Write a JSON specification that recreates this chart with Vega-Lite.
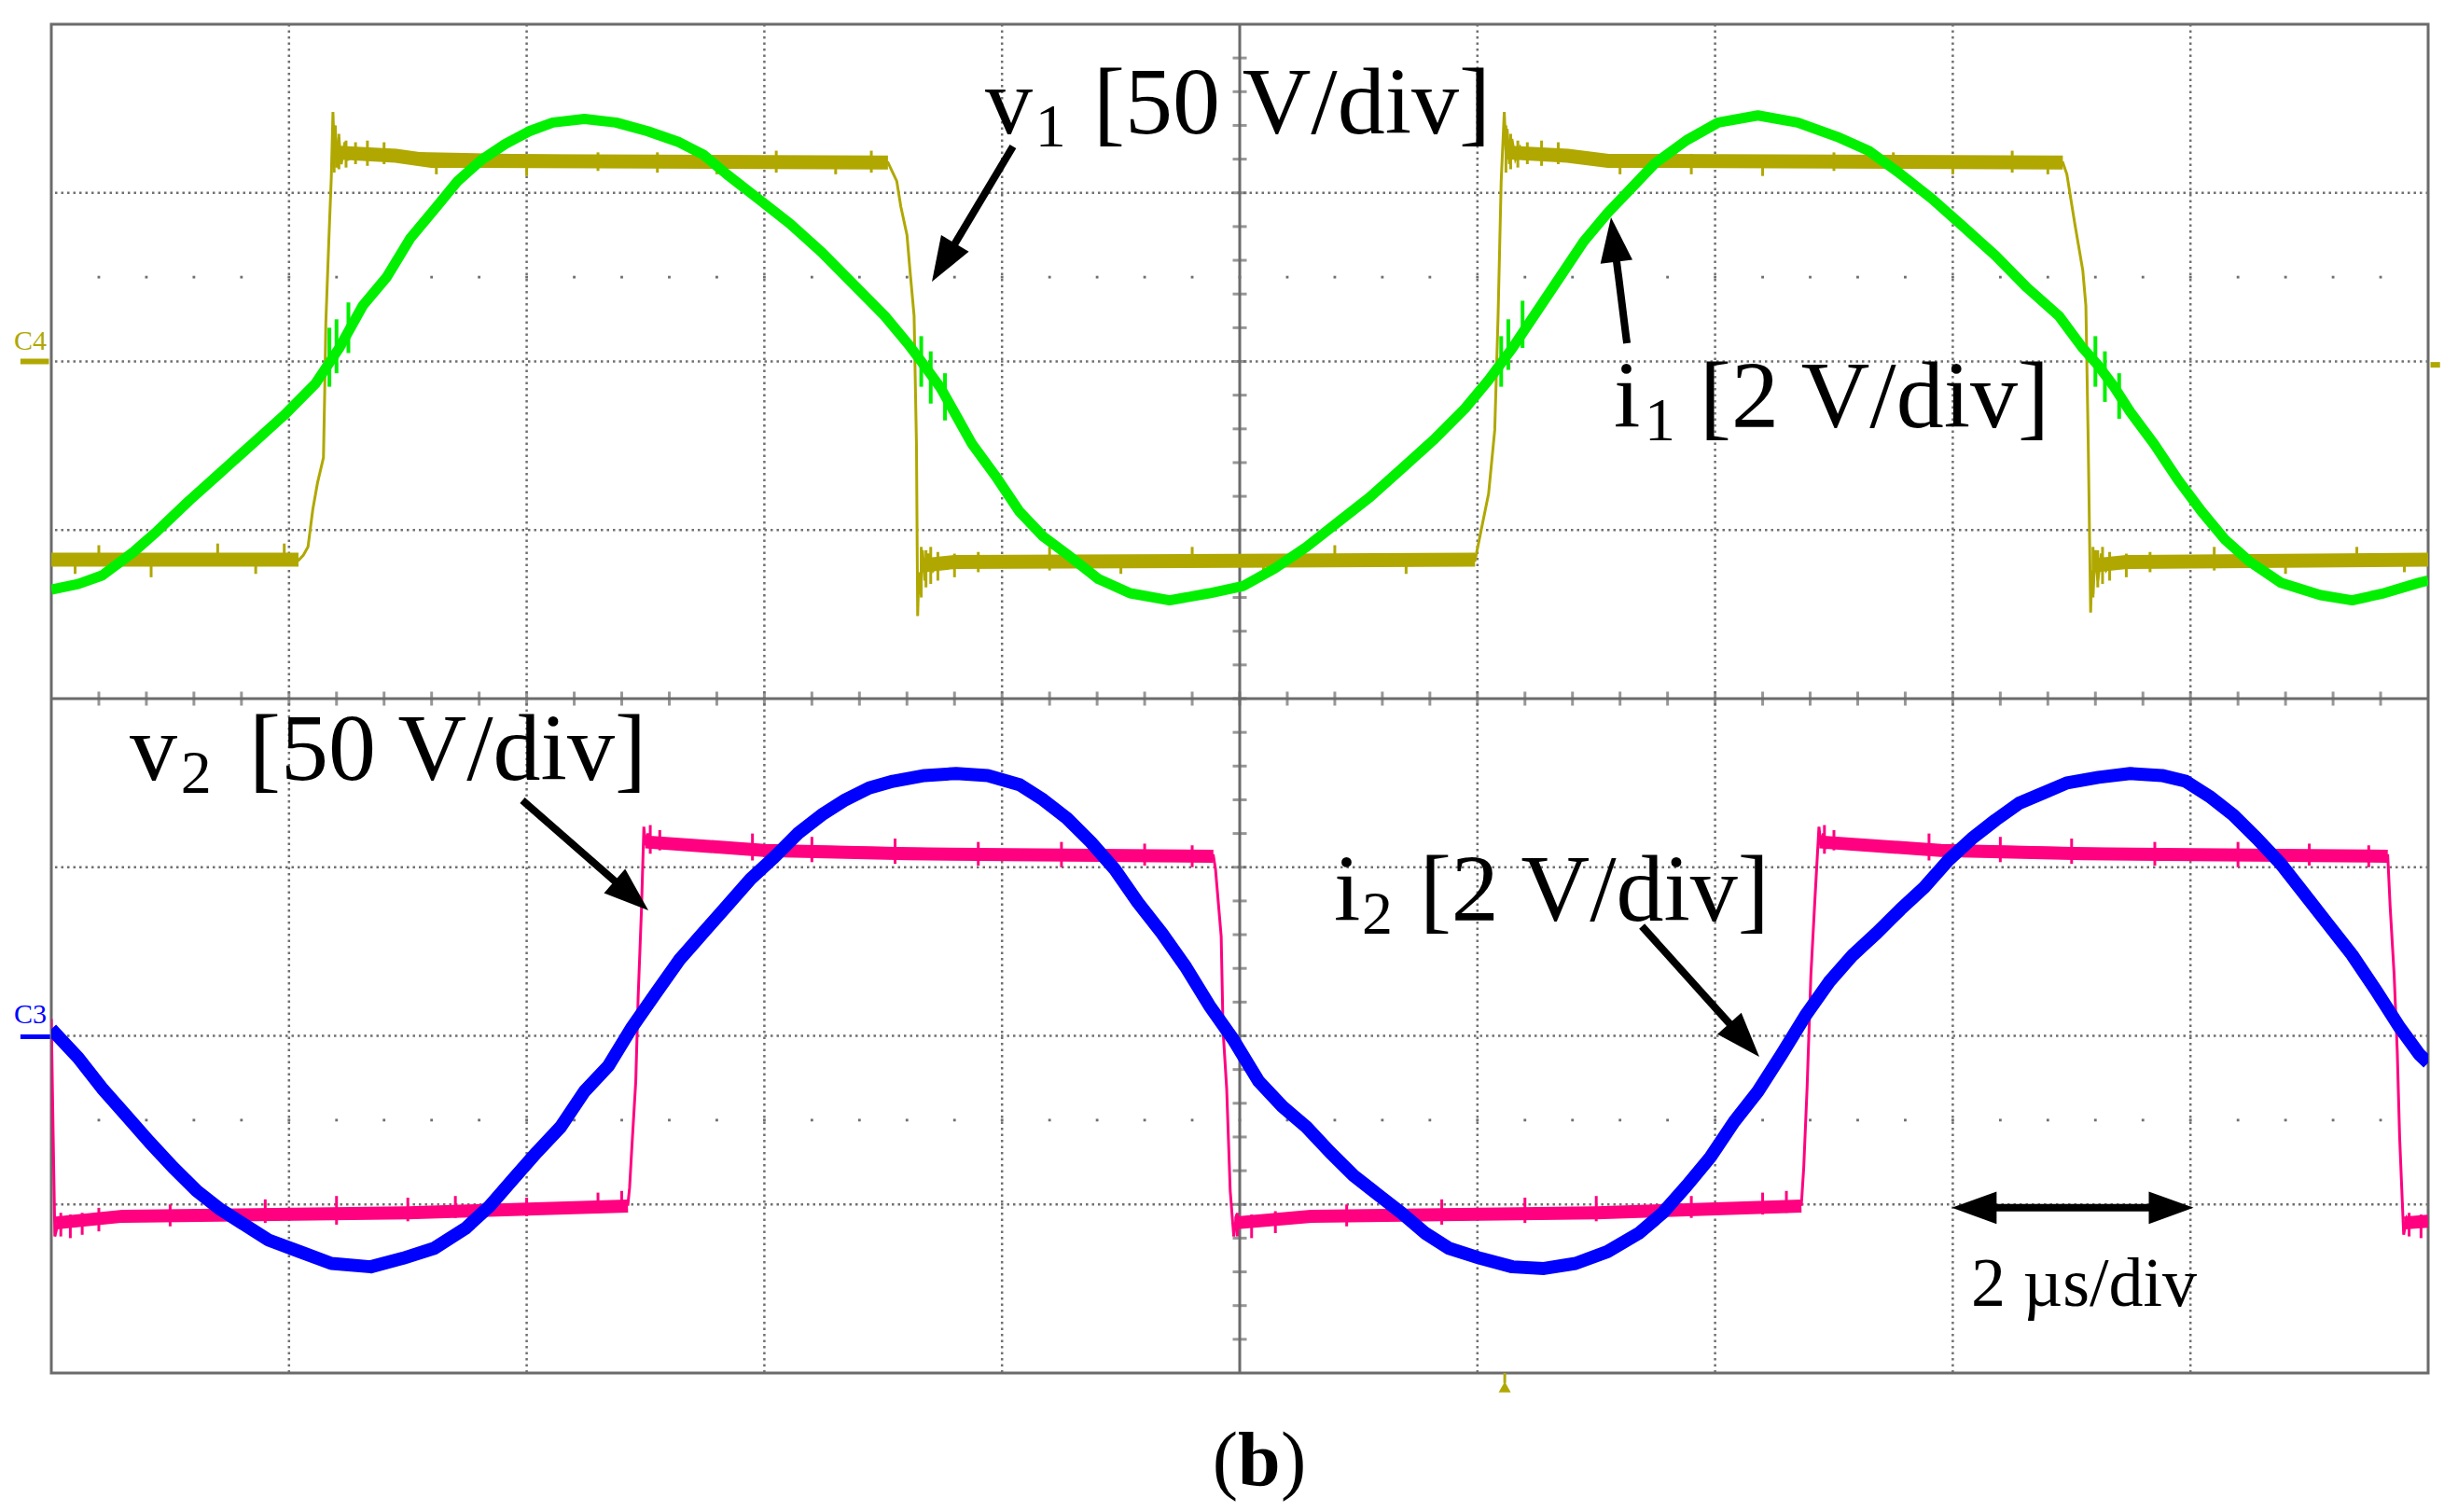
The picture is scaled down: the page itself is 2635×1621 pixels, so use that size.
{
"$schema": "https://vega.github.io/schema/vega-lite/v6.json",
"width": 2548, "height": 1446,
"autosize": {"type": "none"},
"padding": {"left": 55, "top": 26, "right": 32, "bottom": 149},
"background": "white",
"config": {"view": {"stroke": "#6b6b6b", "strokeWidth": 3}},
"datasets": {
"vgrid": [{"t":1},{"t":2},{"t":3},{"t":4},{"t":6},{"t":7},{"t":8},{"t":9}],
"hgrid": [{"v":-3},{"v":-2},{"v":-1},{"v":1},{"v":2},{"v":3}],
"mt": [{"t":0.2},{"t":0.4},{"t":0.6},{"t":0.8},{"t":1},{"t":1.2},{"t":1.4},{"t":1.6},{"t":1.8},{"t":2},{"t":2.2},{"t":2.4},{"t":2.6},{"t":2.8},{"t":3},{"t":3.2},{"t":3.4},{"t":3.6},{"t":3.8},{"t":4},{"t":4.2},{"t":4.4},{"t":4.6},{"t":4.8},{"t":5},{"t":5.2},{"t":5.4},{"t":5.6},{"t":5.8},{"t":6},{"t":6.2},{"t":6.4},{"t":6.6},{"t":6.8},{"t":7},{"t":7.2},{"t":7.4},{"t":7.6},{"t":7.8},{"t":8},{"t":8.2},{"t":8.4},{"t":8.6},{"t":8.8},{"t":9},{"t":9.2},{"t":9.4},{"t":9.6},{"t":9.8}],
"mv": [{"v":-3.8},{"v":-3.6},{"v":-3.4},{"v":-3.2},{"v":-3},{"v":-2.8},{"v":-2.6},{"v":-2.4},{"v":-2.2},{"v":-2},{"v":-1.8},{"v":-1.6},{"v":-1.4},{"v":-1.2},{"v":-1},{"v":-0.8},{"v":-0.6},{"v":-0.4},{"v":-0.2},{"v":0},{"v":0.2},{"v":0.4},{"v":0.6},{"v":0.8},{"v":1},{"v":1.2},{"v":1.4},{"v":1.6},{"v":1.8},{"v":2},{"v":2.2},{"v":2.4},{"v":2.6},{"v":2.8},{"v":3},{"v":3.2},{"v":3.4},{"v":3.6},{"v":3.8}],
"v1": [{"t":0,"v":0.82},{"t":1.04,"v":0.82},{"t":1.06,"v":0.85},{"t":1.08,"v":0.9},{"t":1.1,"v":1.12},{"t":1.12,"v":1.28},{"t":1.145,"v":1.43},{"t":1.15,"v":1.8},{"t":1.155,"v":2.23},{"t":1.168,"v":2.73},{"t":1.178,"v":3.09},{"t":1.185,"v":3.48},{"t":1.19,"v":3.25},{"t":1.195,"v":3.4},{"t":1.2,"v":3.15},{"t":1.21,"v":3.33},{"t":1.22,"v":3.17},{"t":1.235,"v":3.3},{"t":1.25,"v":3.2},{"t":1.3,"v":3.24},{"t":3.52,"v":3.18},{"t":3.557,"v":3.07},{"t":3.574,"v":2.92},{"t":3.6,"v":2.75},{"t":3.614,"v":2.52},{"t":3.63,"v":2.27},{"t":3.64,"v":1.5},{"t":3.645,"v":0.49},{"t":3.65,"v":0.75},{"t":3.655,"v":0.62},{"t":3.665,"v":0.88},{"t":3.675,"v":0.7},{"t":3.69,"v":0.86},{"t":3.71,"v":0.76},{"t":3.74,"v":0.83},{"t":3.8,"v":0.82},{"t":5.99,"v":0.82},{"t":6.013,"v":0.98},{"t":6.047,"v":1.215},{"t":6.073,"v":1.594},{"t":6.087,"v":2.27},{"t":6.1,"v":3.07},{"t":6.113,"v":3.48},{"t":6.12,"v":3.25},{"t":6.125,"v":3.38},{"t":6.135,"v":3.17},{"t":6.145,"v":3.32},{"t":6.16,"v":3.2},{"t":6.18,"v":3.27},{"t":6.2,"v":3.22},{"t":8.463,"v":3.18},{"t":8.48,"v":3.11},{"t":8.513,"v":2.82},{"t":8.547,"v":2.54},{"t":8.56,"v":2.33},{"t":8.57,"v":1.5},{"t":8.58,"v":0.51},{"t":8.585,"v":0.76},{"t":8.59,"v":0.62},{"t":8.6,"v":0.88},{"t":8.61,"v":0.7},{"t":8.625,"v":0.86},{"t":8.645,"v":0.76},{"t":8.68,"v":0.83},{"t":8.75,"v":0.82},{"t":10,"v":0.82}],
"v1lev": [{"seg":1,"t":0,"v":0.825},{"seg":1,"t":1.04,"v":0.825},{"seg":2,"t":1.19,"v":3.24},{"seg":2,"t":1.45,"v":3.22},{"seg":2,"t":1.6,"v":3.19},{"seg":2,"t":3.52,"v":3.18},{"seg":3,"t":3.66,"v":0.79},{"seg":3,"t":3.8,"v":0.81},{"seg":3,"t":5.99,"v":0.825},{"seg":4,"t":6.12,"v":3.24},{"seg":4,"t":6.38,"v":3.22},{"seg":4,"t":6.55,"v":3.19},{"seg":4,"t":8.463,"v":3.18},{"seg":5,"t":8.59,"v":0.79},{"seg":5,"t":8.73,"v":0.81},{"seg":5,"t":10,"v":0.825}],
"v1sp": [{"t":0.1,"lo":0.74,"hi":0.84},{"t":0.2,"lo":0.8,"hi":0.91},{"t":0.42,"lo":0.72,"hi":0.83},{"t":0.7,"lo":0.81,"hi":0.92},{"t":0.86,"lo":0.74,"hi":0.82},{"t":0.98,"lo":0.8,"hi":0.92},{"t":1.19,"lo":3.12,"hi":3.4},{"t":1.21,"lo":3.14,"hi":3.35},{"t":1.24,"lo":3.15,"hi":3.31},{"t":1.28,"lo":3.17,"hi":3.3},{"t":1.33,"lo":3.16,"hi":3.31},{"t":1.4,"lo":3.17,"hi":3.3},{"t":1.62,"lo":3.11,"hi":3.2},{"t":1.75,"lo":3.11,"hi":3.22},{"t":2.0,"lo":3.1,"hi":3.2},{"t":2.3,"lo":3.13,"hi":3.24},{"t":2.55,"lo":3.12,"hi":3.24},{"t":2.8,"lo":3.11,"hi":3.22},{"t":3.05,"lo":3.12,"hi":3.25},{"t":3.3,"lo":3.11,"hi":3.22},{"t":3.45,"lo":3.12,"hi":3.25},{"t":3.66,"lo":0.6,"hi":0.9},{"t":3.68,"lo":0.66,"hi":0.88},{"t":3.7,"lo":0.68,"hi":0.9},{"t":3.73,"lo":0.7,"hi":0.87},{"t":3.8,"lo":0.72,"hi":0.86},{"t":3.9,"lo":0.75,"hi":0.87},{"t":4.2,"lo":0.76,"hi":0.9},{"t":4.5,"lo":0.74,"hi":0.84},{"t":4.8,"lo":0.79,"hi":0.9},{"t":5.1,"lo":0.75,"hi":0.84},{"t":5.4,"lo":0.79,"hi":0.91},{"t":5.7,"lo":0.74,"hi":0.84},{"t":6.12,"lo":3.12,"hi":3.4},{"t":6.14,"lo":3.14,"hi":3.35},{"t":6.17,"lo":3.15,"hi":3.31},{"t":6.21,"lo":3.17,"hi":3.3},{"t":6.27,"lo":3.16,"hi":3.31},{"t":6.34,"lo":3.17,"hi":3.3},{"t":6.6,"lo":3.11,"hi":3.21},{"t":6.9,"lo":3.11,"hi":3.23},{"t":7.2,"lo":3.1,"hi":3.2},{"t":7.5,"lo":3.13,"hi":3.24},{"t":7.75,"lo":3.12,"hi":3.24},{"t":8.0,"lo":3.11,"hi":3.22},{"t":8.25,"lo":3.12,"hi":3.25},{"t":8.4,"lo":3.11,"hi":3.22},{"t":8.59,"lo":0.6,"hi":0.9},{"t":8.61,"lo":0.66,"hi":0.88},{"t":8.63,"lo":0.68,"hi":0.9},{"t":8.66,"lo":0.7,"hi":0.87},{"t":8.73,"lo":0.72,"hi":0.86},{"t":8.83,"lo":0.75,"hi":0.87},{"t":9.1,"lo":0.76,"hi":0.9},{"t":9.4,"lo":0.74,"hi":0.84},{"t":9.7,"lo":0.79,"hi":0.9},{"t":9.9,"lo":0.75,"hi":0.84}],
"i1": [{"t":0,"v":0.646},{"t":0.113,"v":0.68},{"t":0.213,"v":0.73},{"t":0.346,"v":0.87},{"t":0.446,"v":0.994},{"t":0.579,"v":1.173},{"t":0.712,"v":1.341},{"t":0.845,"v":1.51},{"t":0.978,"v":1.679},{"t":1.111,"v":1.868},{"t":1.211,"v":2.079},{"t":1.311,"v":2.332},{"t":1.411,"v":2.5},{"t":1.511,"v":2.732},{"t":1.611,"v":2.9},{"t":1.71,"v":3.07},{"t":1.81,"v":3.196},{"t":1.91,"v":3.29},{"t":2.01,"v":3.365},{"t":2.11,"v":3.417},{"t":2.243,"v":3.438},{"t":2.376,"v":3.417},{"t":2.51,"v":3.365},{"t":2.642,"v":3.3},{"t":2.742,"v":3.228},{"t":2.842,"v":3.11},{"t":2.975,"v":2.964},{"t":3.108,"v":2.817},{"t":3.241,"v":2.648},{"t":3.374,"v":2.458},{"t":3.507,"v":2.269},{"t":3.607,"v":2.1},{"t":3.674,"v":1.974},{"t":3.74,"v":1.847},{"t":3.807,"v":1.679},{"t":3.874,"v":1.51},{"t":3.973,"v":1.32},{"t":4.073,"v":1.11},{"t":4.173,"v":0.962},{"t":4.273,"v":0.857},{"t":4.406,"v":0.709},{"t":4.539,"v":0.625},{"t":4.705,"v":0.583},{"t":4.872,"v":0.625},{"t":5.013,"v":0.667},{"t":5.147,"v":0.772},{"t":5.28,"v":0.899},{"t":5.413,"v":1.046},{"t":5.547,"v":1.194},{"t":5.68,"v":1.362},{"t":5.813,"v":1.531},{"t":5.947,"v":1.72},{"t":6.047,"v":1.889},{"t":6.147,"v":2.079},{"t":6.247,"v":2.29},{"t":6.347,"v":2.5},{"t":6.447,"v":2.711},{"t":6.547,"v":2.88},{"t":6.647,"v":3.027},{"t":6.747,"v":3.175},{"t":6.88,"v":3.312},{"t":7.013,"v":3.417},{"t":7.18,"v":3.459},{"t":7.347,"v":3.417},{"t":7.513,"v":3.333},{"t":7.647,"v":3.249},{"t":7.78,"v":3.112},{"t":7.913,"v":2.964},{"t":8.047,"v":2.796},{"t":8.18,"v":2.627},{"t":8.313,"v":2.437},{"t":8.447,"v":2.269},{"t":8.547,"v":2.079},{"t":8.613,"v":1.974},{"t":8.68,"v":1.847},{"t":8.747,"v":1.7},{"t":8.847,"v":1.51},{"t":8.947,"v":1.299},{"t":9.047,"v":1.11},{"t":9.147,"v":0.941},{"t":9.247,"v":0.815},{"t":9.38,"v":0.688},{"t":9.547,"v":0.614},{"t":9.68,"v":0.583},{"t":9.813,"v":0.625},{"t":9.963,"v":0.688},{"t":10,"v":0.7}],
"i1sp": [{"t":1.17,"lo":1.85,"hi":2.2},{"t":1.2,"lo":1.93,"hi":2.25},{"t":1.25,"lo":2.05,"hi":2.35},{"t":3.66,"lo":1.85,"hi":2.15},{"t":3.7,"lo":1.75,"hi":2.06},{"t":3.76,"lo":1.65,"hi":1.93},{"t":6.1,"lo":1.85,"hi":2.15},{"t":6.13,"lo":1.95,"hi":2.25},{"t":6.19,"lo":2.08,"hi":2.36},{"t":8.6,"lo":1.85,"hi":2.15},{"t":8.64,"lo":1.76,"hi":2.06},{"t":8.7,"lo":1.66,"hi":1.93}],
"v2": [{"t":0,"v":-1.9},{"t":0.008,"v":-2.6},{"t":0.015,"v":-3.19},{"t":0.03,"v":-3.1},{"t":2.426,"v":-3.0},{"t":2.433,"v":-2.9},{"t":2.443,"v":-2.65},{"t":2.459,"v":-2.27},{"t":2.469,"v":-1.77},{"t":2.483,"v":-1.25},{"t":2.493,"v":-0.76},{"t":2.5,"v":-0.87},{"t":2.51,"v":-0.8},{"t":2.52,"v":-0.88},{"t":2.55,"v":-0.84},{"t":2.6,"v":-0.86},{"t":4.889,"v":-0.93},{"t":4.898,"v":-1.01},{"t":4.922,"v":-1.41},{"t":4.93,"v":-1.97},{"t":4.945,"v":-2.31},{"t":4.96,"v":-2.92},{"t":4.975,"v":-3.19},{"t":4.985,"v":-3.08},{"t":5.0,"v":-3.12},{"t":5.05,"v":-3.1},{"t":7.363,"v":-3.0},{"t":7.373,"v":-2.78},{"t":7.387,"v":-2.31},{"t":7.403,"v":-1.64},{"t":7.42,"v":-1.19},{"t":7.437,"v":-0.76},{"t":7.445,"v":-0.87},{"t":7.455,"v":-0.8},{"t":7.47,"v":-0.88},{"t":7.5,"v":-0.84},{"t":7.55,"v":-0.86},{"t":9.83,"v":-0.93},{"t":9.84,"v":-1.23},{"t":9.857,"v":-1.64},{"t":9.87,"v":-2.09},{"t":9.88,"v":-2.6},{"t":9.897,"v":-3.18},{"t":9.91,"v":-3.08},{"t":9.93,"v":-3.12},{"t":10,"v":-3.1}],
"v2lev": [{"seg":1,"t":0.02,"v":-3.11},{"seg":1,"t":0.3,"v":-3.07},{"seg":1,"t":1.5,"v":-3.05},{"seg":1,"t":2.426,"v":-3.01},{"seg":2,"t":2.5,"v":-0.85},{"seg":2,"t":3.0,"v":-0.9},{"seg":2,"t":3.6,"v":-0.92},{"seg":2,"t":4.889,"v":-0.935},{"seg":3,"t":4.98,"v":-3.11},{"seg":3,"t":5.3,"v":-3.07},{"seg":3,"t":6.5,"v":-3.05},{"seg":3,"t":7.363,"v":-3.01},{"seg":4,"t":7.44,"v":-0.85},{"seg":4,"t":7.95,"v":-0.9},{"seg":4,"t":8.55,"v":-0.92},{"seg":4,"t":9.83,"v":-0.935},{"seg":5,"t":9.9,"v":-3.11},{"seg":5,"t":10,"v":-3.1}],
"v2sp": [{"t":0.04,"lo":-3.19,"hi":-3.05},{"t":0.08,"lo":-3.2,"hi":-3.06},{"t":0.13,"lo":-3.18,"hi":-3.05},{"t":0.2,"lo":-3.16,"hi":-3.02},{"t":0.5,"lo":-3.13,"hi":-3.0},{"t":0.9,"lo":-3.11,"hi":-2.97},{"t":1.2,"lo":-3.12,"hi":-2.95},{"t":1.5,"lo":-3.1,"hi":-2.96},{"t":1.7,"lo":-3.08,"hi":-2.95},{"t":2.0,"lo":-3.07,"hi":-2.96},{"t":2.3,"lo":-3.05,"hi":-2.93},{"t":2.4,"lo":-3.04,"hi":-2.92},{"t":2.52,"lo":-0.92,"hi":-0.75},{"t":2.56,"lo":-0.9,"hi":-0.78},{"t":2.95,"lo":-0.96,"hi":-0.8},{"t":3.2,"lo":-0.97,"hi":-0.82},{"t":3.55,"lo":-0.98,"hi":-0.83},{"t":3.9,"lo":-0.99,"hi":-0.85},{"t":4.25,"lo":-1.0,"hi":-0.85},{"t":4.6,"lo":-0.99,"hi":-0.86},{"t":4.8,"lo":-1.0,"hi":-0.87},{"t":4.99,"lo":-3.19,"hi":-3.05},{"t":5.05,"lo":-3.2,"hi":-3.06},{"t":5.15,"lo":-3.17,"hi":-3.04},{"t":5.45,"lo":-3.13,"hi":-3.0},{"t":5.85,"lo":-3.12,"hi":-2.97},{"t":6.2,"lo":-3.11,"hi":-2.96},{"t":6.5,"lo":-3.1,"hi":-2.95},{"t":6.9,"lo":-3.08,"hi":-2.95},{"t":7.2,"lo":-3.06,"hi":-2.93},{"t":7.3,"lo":-3.05,"hi":-2.92},{"t":7.46,"lo":-0.92,"hi":-0.75},{"t":7.5,"lo":-0.9,"hi":-0.78},{"t":7.9,"lo":-0.96,"hi":-0.8},{"t":8.2,"lo":-0.97,"hi":-0.82},{"t":8.5,"lo":-0.98,"hi":-0.83},{"t":8.85,"lo":-0.99,"hi":-0.85},{"t":9.2,"lo":-1.0,"hi":-0.85},{"t":9.5,"lo":-0.99,"hi":-0.86},{"t":9.75,"lo":-1.0,"hi":-0.87},{"t":9.92,"lo":-3.19,"hi":-3.05},{"t":9.97,"lo":-3.2,"hi":-3.06}],
"i2": [{"t":0,"v":-1.96},{"t":0.113,"v":-2.13},{"t":0.213,"v":-2.31},{"t":0.313,"v":-2.47},{"t":0.413,"v":-2.63},{"t":0.512,"v":-2.78},{"t":0.612,"v":-2.92},{"t":0.712,"v":-3.03},{"t":0.812,"v":-3.12},{"t":0.912,"v":-3.21},{"t":1.045,"v":-3.28},{"t":1.178,"v":-3.35},{"t":1.344,"v":-3.37},{"t":1.478,"v":-3.32},{"t":1.611,"v":-3.26},{"t":1.744,"v":-3.14},{"t":1.844,"v":-3.01},{"t":1.943,"v":-2.85},{"t":2.043,"v":-2.69},{"t":2.143,"v":-2.54},{"t":2.243,"v":-2.33},{"t":2.343,"v":-2.18},{"t":2.443,"v":-1.95},{"t":2.542,"v":-1.75},{"t":2.642,"v":-1.55},{"t":2.742,"v":-1.39},{"t":2.842,"v":-1.23},{"t":2.942,"v":-1.07},{"t":3.042,"v":-0.94},{"t":3.141,"v":-0.8},{"t":3.241,"v":-0.69},{"t":3.341,"v":-0.6},{"t":3.441,"v":-0.53},{"t":3.541,"v":-0.49},{"t":3.674,"v":-0.456},{"t":3.807,"v":-0.444},{"t":3.94,"v":-0.456},{"t":4.073,"v":-0.51},{"t":4.173,"v":-0.6},{"t":4.273,"v":-0.71},{"t":4.373,"v":-0.85},{"t":4.473,"v":-1.01},{"t":4.572,"v":-1.21},{"t":4.672,"v":-1.39},{"t":4.772,"v":-1.59},{"t":4.872,"v":-1.82},{"t":4.972,"v":-2.02},{"t":5.08,"v":-2.27},{"t":5.18,"v":-2.42},{"t":5.28,"v":-2.54},{"t":5.38,"v":-2.69},{"t":5.48,"v":-2.83},{"t":5.58,"v":-2.94},{"t":5.68,"v":-3.05},{"t":5.78,"v":-3.17},{"t":5.88,"v":-3.26},{"t":6.013,"v":-3.32},{"t":6.147,"v":-3.37},{"t":6.28,"v":-3.38},{"t":6.413,"v":-3.35},{"t":6.547,"v":-3.28},{"t":6.68,"v":-3.17},{"t":6.78,"v":-3.05},{"t":6.88,"v":-2.89},{"t":6.98,"v":-2.72},{"t":7.08,"v":-2.51},{"t":7.18,"v":-2.33},{"t":7.28,"v":-2.11},{"t":7.38,"v":-1.88},{"t":7.48,"v":-1.68},{"t":7.58,"v":-1.52},{"t":7.68,"v":-1.39},{"t":7.78,"v":-1.25},{"t":7.88,"v":-1.12},{"t":7.98,"v":-0.96},{"t":8.08,"v":-0.83},{"t":8.18,"v":-0.72},{"t":8.28,"v":-0.62},{"t":8.38,"v":-0.56},{"t":8.48,"v":-0.5},{"t":8.613,"v":-0.467},{"t":8.747,"v":-0.444},{"t":8.88,"v":-0.456},{"t":8.98,"v":-0.49},{"t":9.08,"v":-0.58},{"t":9.18,"v":-0.69},{"t":9.28,"v":-0.83},{"t":9.38,"v":-0.98},{"t":9.48,"v":-1.16},{"t":9.58,"v":-1.34},{"t":9.68,"v":-1.52},{"t":9.78,"v":-1.73},{"t":9.88,"v":-1.95},{"t":9.963,"v":-2.11},{"t":10,"v":-2.16}],
"big": [{"t":3.929,"v":3.353,"txt":"v"},{"t":4.384,"v":3.353,"txt":"[50 V/div]"},{"t":6.574,"v":1.61,"txt":"i"},{"t":6.935,"v":1.61,"txt":"[2 V/div]"},{"t":0.33,"v":-0.479,"txt":"v"},{"t":0.832,"v":-0.479,"txt":"[50 V/div]"},{"t":5.396,"v":-1.314,"txt":"i"},{"t":5.757,"v":-1.314,"txt":"[2 V/div]"}],
"sub": [{"t":4.14,"v":3.275,"txt":"1"},{"t":6.703,"v":1.532,"txt":"1"},{"t":0.545,"v":-0.558,"txt":"2"},{"t":5.514,"v":-1.393,"txt":"2"}],
"shafts": [{"t":4.046,"v":3.275,"t2":3.766,"v2":2.615},{"t":6.629,"v":2.108,"t2":6.577,"v2":2.69},{"t":1.982,"v":-0.603,"t2":2.423,"v2":-1.146},{"t":6.692,"v":-1.35,"t2":7.107,"v2":-2.0},{"t":8.1,"v":-3.02,"t2":8.91,"v2":-3.02}],
"heads": [{"t":3.705,"v":2.473,"ang":211},{"t":6.562,"v":2.855,"ang":353},{"t":2.512,"v":-1.256,"ang":131},{"t":7.186,"v":-2.124,"ang":138},{"t":7.996,"v":-3.02,"ang":270},{"t":9.013,"v":-3.02,"ang":90}]
},
"layer": [
{"data":{"name":"vgrid"},"mark":{"type":"rule","color":"#707070","strokeWidth":2.5,"strokeDash":[2.5,4]},
 "encoding":{"x":{"field":"t","type":"quantitative","scale":{"domain":[0,10],"nice":false,"zero":false},"axis":null}}},
{"data":{"name":"hgrid"},"mark":{"type":"rule","color":"#707070","strokeWidth":2.5,"strokeDash":[2.5,4]},
 "encoding":{"y":{"field":"v","type":"quantitative","scale":{"domain":[-4,4],"nice":false,"zero":false},"axis":null}}},
{"data":{"values":[{"t":5}]},"mark":{"type":"rule","color":"#6b6b6b","strokeWidth":3},
 "encoding":{"x":{"field":"t","type":"quantitative","axis":null}}},
{"data":{"values":[{"v":0}]},"mark":{"type":"rule","color":"#6b6b6b","strokeWidth":3},
 "encoding":{"y":{"field":"v","type":"quantitative","axis":null}}},
{"data":{"name":"mt"},"mark":{"type":"tick","orient":"vertical","size":15,"thickness":3,"color":"#6b6b6b"},
 "encoding":{"x":{"field":"t","type":"quantitative","axis":null},"y":{"datum":0,"type":"quantitative","axis":null}}},
{"data":{"name":"mv"},"mark":{"type":"tick","orient":"horizontal","size":15,"thickness":3,"color":"#6b6b6b"},
 "encoding":{"y":{"field":"v","type":"quantitative","axis":null},"x":{"datum":5,"type":"quantitative","axis":null}}},
{"data":{"name":"mt"},"mark":{"type":"point","shape":"square","filled":true,"size":8,"color":"#707070","opacity":1},
 "encoding":{"x":{"field":"t","type":"quantitative","axis":null},"y":{"datum":2.5,"type":"quantitative","axis":null}}},
{"data":{"name":"mt"},"mark":{"type":"point","shape":"square","filled":true,"size":8,"color":"#707070","opacity":1},
 "encoding":{"x":{"field":"t","type":"quantitative","axis":null},"y":{"datum":-2.5,"type":"quantitative","axis":null}}},
{"data":{"name":"v1"},"mark":{"type":"line","color":"#b0a800","strokeWidth":3,"clip":true},
 "encoding":{"x":{"field":"t","type":"quantitative","axis":null},"y":{"field":"v","type":"quantitative","axis":null}}},
{"data":{"name":"v1lev"},"mark":{"type":"line","color":"#b0a800","strokeWidth":15,"strokeCap":"butt","clip":true},
 "encoding":{"x":{"field":"t","type":"quantitative","axis":null},"y":{"field":"v","type":"quantitative","axis":null},"detail":{"field":"seg"}}},
{"data":{"name":"v1sp"},"mark":{"type":"rule","color":"#b0a800","strokeWidth":3,"clip":true},
 "encoding":{"x":{"field":"t","type":"quantitative","axis":null},"y":{"field":"lo","type":"quantitative","axis":null},"y2":{"field":"hi"}}},
{"data":{"name":"i1"},"mark":{"type":"line","color":"#00f000","strokeWidth":11,"strokeJoin":"round","clip":true},
 "encoding":{"x":{"field":"t","type":"quantitative","axis":null},"y":{"field":"v","type":"quantitative","axis":null}}},
{"data":{"name":"i1sp"},"mark":{"type":"rule","color":"#00f000","strokeWidth":4,"clip":true},
 "encoding":{"x":{"field":"t","type":"quantitative","axis":null},"y":{"field":"lo","type":"quantitative","axis":null},"y2":{"field":"hi"}}},
{"data":{"name":"v2"},"mark":{"type":"line","color":"#ff0080","strokeWidth":3,"clip":true},
 "encoding":{"x":{"field":"t","type":"quantitative","axis":null},"y":{"field":"v","type":"quantitative","axis":null}}},
{"data":{"name":"v2lev"},"mark":{"type":"line","color":"#ff0080","strokeWidth":14,"strokeCap":"butt","clip":true},
 "encoding":{"x":{"field":"t","type":"quantitative","axis":null},"y":{"field":"v","type":"quantitative","axis":null},"detail":{"field":"seg"}}},
{"data":{"name":"v2sp"},"mark":{"type":"rule","color":"#ff0080","strokeWidth":3,"clip":true},
 "encoding":{"x":{"field":"t","type":"quantitative","axis":null},"y":{"field":"lo","type":"quantitative","axis":null},"y2":{"field":"hi"}}},
{"data":{"name":"i2"},"mark":{"type":"line","color":"#0000ff","strokeWidth":14,"strokeJoin":"round","clip":true},
 "encoding":{"x":{"field":"t","type":"quantitative","axis":null},"y":{"field":"v","type":"quantitative","axis":null}}},
{"data":{"values":[{"t":-0.13,"v":2.0,"t2":-0.01},{"t":10.01,"v":1.98,"t2":10.05}]},"mark":{"type":"rule","color":"#b0a800","strokeWidth":6},
 "encoding":{"x":{"field":"t","type":"quantitative","axis":null},"x2":{"field":"t2"},"y":{"field":"v","type":"quantitative","axis":null}}},
{"data":{"values":[{"t":-0.13,"v":-2.005,"t2":-0.005}]},"mark":{"type":"rule","color":"#0000ff","strokeWidth":5},
 "encoding":{"x":{"field":"t","type":"quantitative","axis":null},"x2":{"field":"t2"},"y":{"field":"v","type":"quantitative","axis":null}}},
{"data":{"values":[{"t":-0.157,"v":2.069,"txt":"C4"}]},"mark":{"type":"text","font":"Liberation Sans Narrow","fontSize":30,"color":"#b0a800","align":"left","baseline":"alphabetic"},
 "encoding":{"x":{"field":"t","type":"quantitative","axis":null},"y":{"field":"v","type":"quantitative","axis":null},"text":{"field":"txt"}}},
{"data":{"values":[{"t":-0.157,"v":-1.925,"txt":"C3"}]},"mark":{"type":"text","font":"Liberation Sans Narrow","fontSize":30,"color":"#0000ff","align":"left","baseline":"alphabetic"},
 "encoding":{"x":{"field":"t","type":"quantitative","axis":null},"y":{"field":"v","type":"quantitative","axis":null},"text":{"field":"txt"}}},
{"data":{"values":[{"t":6.115,"v":-4.0,"v2":-4.06}]},"mark":{"type":"rule","color":"#b0a800","strokeWidth":3},
 "encoding":{"x":{"field":"t","type":"quantitative","axis":null},"y":{"field":"v","type":"quantitative","axis":null},"y2":{"field":"v2"}}},
{"data":{"values":[{"t":6.115,"v":-4.083}]},"mark":{"type":"point","shape":"triangle-up","filled":true,"size":170,"color":"#b0a800","opacity":1},
 "encoding":{"x":{"field":"t","type":"quantitative","axis":null},"y":{"field":"v","type":"quantitative","axis":null}}},
{"data":{"name":"shafts"},"mark":{"type":"rule","color":"black","strokeWidth":8,"strokeCap":"butt"},
 "encoding":{"x":{"field":"t","type":"quantitative","axis":null},"x2":{"field":"t2"},"y":{"field":"v","type":"quantitative","axis":null},"y2":{"field":"v2"}}},
{"data":{"name":"heads"},"mark":{"type":"point","shape":"M0,0L0.36,1L-0.36,1Z","filled":true,"size":9216,"color":"black","opacity":1,"strokeWidth":0},
 "encoding":{"x":{"field":"t","type":"quantitative","axis":null},"y":{"field":"v","type":"quantitative","axis":null},"angle":{"field":"ang","type":"quantitative","scale":null}}},
{"data":{"name":"big"},"mark":{"type":"text","font":"Liberation Serif","fontSize":102,"color":"black","align":"left","baseline":"alphabetic"},
 "encoding":{"x":{"field":"t","type":"quantitative","axis":null},"y":{"field":"v","type":"quantitative","axis":null},"text":{"field":"txt"}}},
{"data":{"name":"sub"},"mark":{"type":"text","font":"Liberation Serif","fontSize":66,"color":"black","align":"left","baseline":"alphabetic"},
 "encoding":{"x":{"field":"t","type":"quantitative","axis":null},"y":{"field":"v","type":"quantitative","axis":null},"text":{"field":"txt"}}},
{"data":{"values":[{"t":8.552,"v":-3.602,"txt":"2 µs/div"}]},"mark":{"type":"text","font":"Liberation Serif","fontSize":74,"color":"black","align":"center","baseline":"alphabetic"},
 "encoding":{"x":{"field":"t","type":"quantitative","axis":null},"y":{"field":"v","type":"quantitative","axis":null},"text":{"field":"txt"}}},
{"data":{"values":[{"t":4.992,"v":-4.664,"txt":"("}]},"mark":{"type":"text","font":"Liberation Serif","fontSize":82,"color":"black","align":"right","baseline":"alphabetic"},
 "encoding":{"x":{"field":"t","type":"quantitative","axis":null},"y":{"field":"v","type":"quantitative","axis":null},"text":{"field":"txt"}}},
{"data":{"values":[{"t":5.082,"v":-4.664,"txt":"b"}]},"mark":{"type":"text","font":"Liberation Serif","fontSize":82,"fontWeight":"bold","color":"black","align":"center","baseline":"alphabetic"},
 "encoding":{"x":{"field":"t","type":"quantitative","axis":null},"y":{"field":"v","type":"quantitative","axis":null},"text":{"field":"txt"}}},
{"data":{"values":[{"t":5.173,"v":-4.664,"txt":")"}]},"mark":{"type":"text","font":"Liberation Serif","fontSize":82,"color":"black","align":"left","baseline":"alphabetic"},
 "encoding":{"x":{"field":"t","type":"quantitative","axis":null},"y":{"field":"v","type":"quantitative","axis":null},"text":{"field":"txt"}}}
]
}
